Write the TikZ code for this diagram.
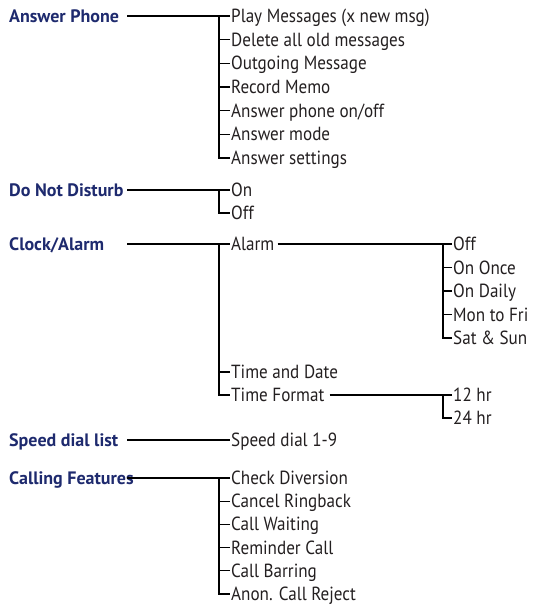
\documentclass[tikz,border=0pt]{standalone}
\usepackage{fontspec}
\setmainfont{PT Sans}
\newfontfamily\itemfont{PT Sans}[FakeStretch=0.9]
\definecolor{headblue}{RGB}{30,42,110}
\definecolor{itemgray}{RGB}{35,31,32}
\begin{document}
\begin{tikzpicture}[x=1pt,y=-1pt]

    \tikzset{
      head/.style={
        anchor=west,
        inner sep=0pt,
        text height=12.5pt,
        text depth=0pt,
        font=\fontsize{18}{20}\selectfont\bfseries,
        text=headblue,
      },
      item/.style={
        anchor=west,
        inner sep=1pt,
        text height=13pt,
        text depth=0pt,
        font=\itemfont\fontsize{19}{21}\selectfont,
        text=itemgray,
      },
      link/.style={
        draw=black,
        line width=1.2pt,
      },
    }
    \useasboundingbox (0,0) rectangle (533,605);
    \coordinate (start) at (127,0);
    \coordinate (bar) at (219,0);
    \coordinate (subbar) at (443,0);

	% headings
	\node[head] (ap) at (9,16) {Answer Phone};
	\node[head] (dnd) at (9,190) {Do Not Disturb};
	\node[head] (clk) at (9,244) {Clock/Alarm};
	\node[head] (sdl) at (9,440) {Speed dial list};
	\node[head] (cf) at (9,478) {Calling Features};

	% answer phone
	\foreach \t [count=\i] in {Play Messages (x new msg),Delete all old messages,Outgoing Message,Record Memo,Answer phone on/off,Answer mode,Answer settings}
	  \node[item] (ap\i) at (230,{16+23.67*(\i-1)}) {\t};
	\draw[link] (ap.west -| start) -- (ap1.west -| bar);
	\draw[link] (ap1.west) -- (ap1.west -| bar) |- (ap7.west);
	\foreach \i in {2,...,6}
	  \draw[link] (ap\i.west) -- (ap\i.west -| bar);

	% do not disturb
	\node[item] (dnd1) at (230,190) {On};
	\node[item] (dnd2) at (230,213) {Off};
	\draw[link] (dnd.west -| start) -- (dnd1.west -| bar);
	\draw[link] (dnd1.west) -- (dnd1.west -| bar) |- (dnd2.west);

	% clock/alarm
	\node[item] (alarm) at (230,244) {Alarm};
	\node[item] (tdate) at (230,372) {Time and Date};
	\node[item] (tform) at (230,395) {Time Format};
	\draw[link] (clk.west -| start) -- (alarm.west -| bar);
	\draw[link] (alarm.west) -- (alarm.west -| bar) |- (tform.west);
	\draw[link] (tdate.west) -- (tdate.west -| bar);

	\foreach \t [count=\i] in {Off,On Once,On Daily,Mon to Fri,Sat \& Sun}
	  \node[item] (al\i) at (452,{244+23.5*(\i-1)}) {\t};
	\draw[link] ([xshift=2pt]alarm.east) -- (al1.west -| subbar);
	\draw[link] (al1.west) -- (al1.west -| subbar) |- (al5.west);
	\foreach \i in {2,...,4}
	  \draw[link] (al\i.west) -- (al\i.west -| subbar);

	\node[item] (tf1) at (452,395) {12 hr};
	\node[item] (tf2) at (452,418) {24 hr};
	\draw[link] ([xshift=4pt]tform.east) -- (tf1.west -| subbar);
	\draw[link] (tf1.west) -- (tf1.west -| subbar) |- (tf2.west);

	% speed dial
	\node[item] (sd1) at (230,440) {Speed dial 1-9};
	\draw[link] (sdl.west -| start) -- (sd1.west);

	% calling features
	\foreach \t [count=\i] in {Check Diversion,Cancel Ringback,Call Waiting,Reminder Call,Call Barring,Anon. Call Reject}
	  \node[item] (cf\i) at (230,{478+23.2*(\i-1)}) {\t};
	\draw[link] (cf.west -| start) -- (cf1.west -| bar);
	\draw[link] (cf1.west) -- (cf1.west -| bar) |- (cf6.west);
	\foreach \i in {2,...,5}
	  \draw[link] (cf\i.west) -- (cf\i.west -| bar);

\end{tikzpicture}
\end{document}
